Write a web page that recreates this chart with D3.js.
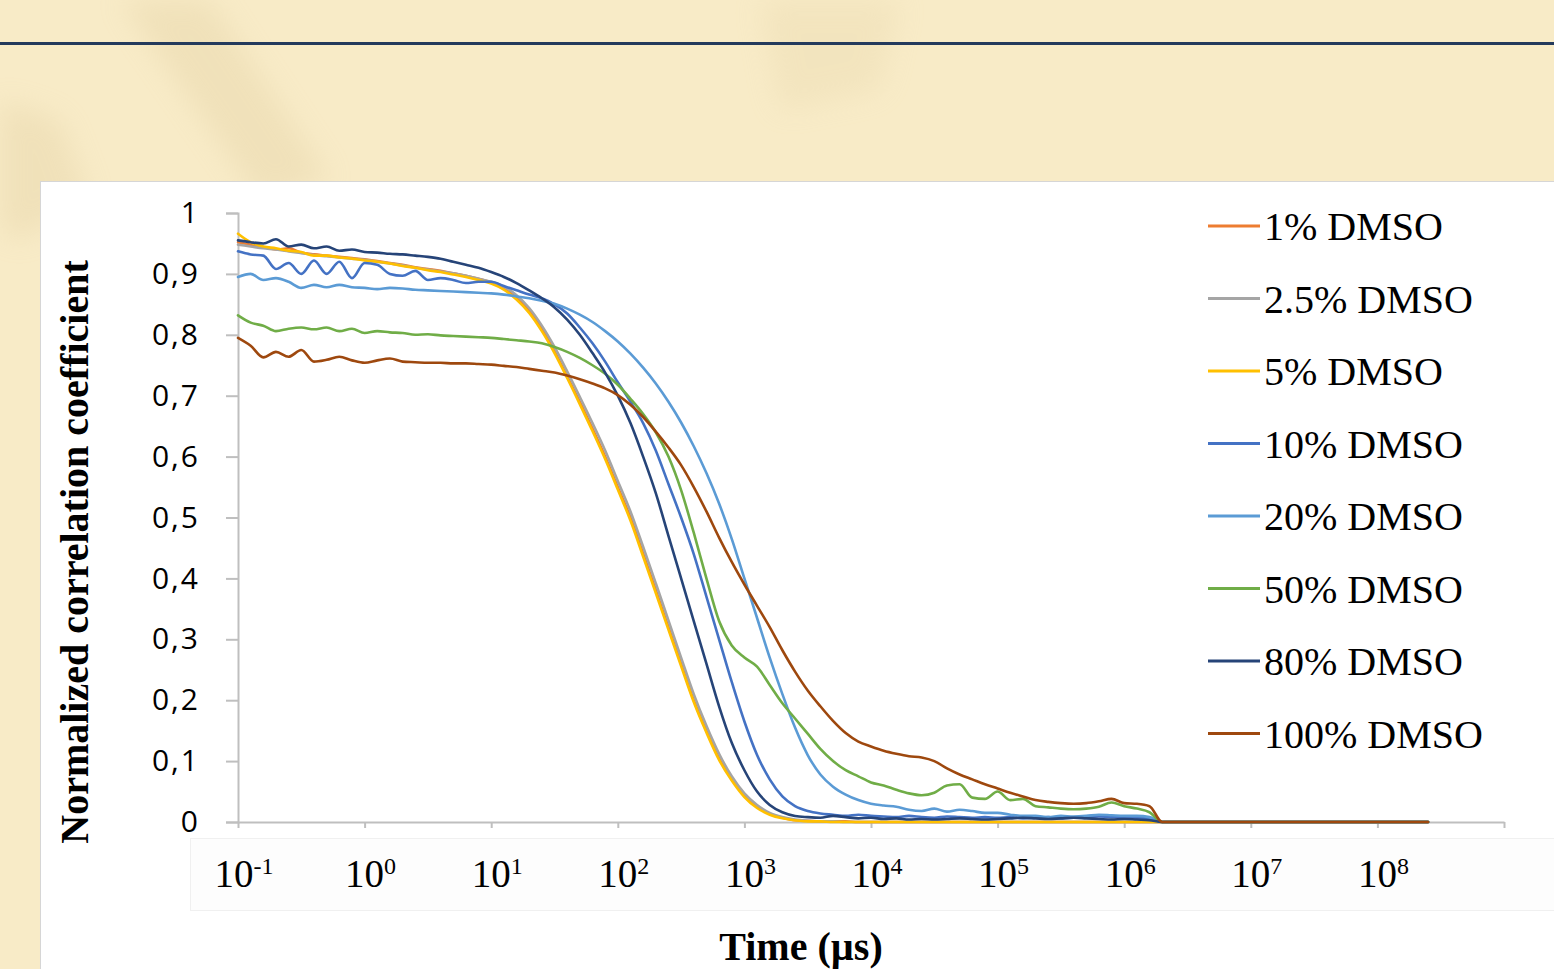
<!DOCTYPE html>
<html>
<head>
<meta charset="utf-8">
<script src="https://cdn.jsdelivr.net/npm/d3@7"></script>
<style>
  body { margin: 0; background: #f8ebc7; overflow: hidden; }
  svg { display: block; }
</style>
</head>
<body>
<div id="VizBox"></div>
<script>
// log10 of time (us) for every sample
var timeExp = [
  -1.0, -0.9, -0.8, -0.7, -0.6, -0.5, -0.4, -0.3, -0.2, -0.1,
   0.0,  0.1,  0.2,  0.3,  0.4,  0.5,  0.6,  0.7,  0.8,  0.9,
   1.0,  1.1,  1.2,  1.3,  1.4,  1.5,  1.6,  1.7,  1.8,  1.9,
   2.0,  2.1,  2.2,  2.3,  2.4,  2.5,  2.6,  2.7,  2.8,  2.9,
   3.0,  3.1,  3.2,  3.3,  3.4,  3.5,  3.6,  3.7,  3.8,  3.9,
   4.0,  4.1,  4.2,  4.3,  4.4,  4.5,  4.6,  4.7,  4.8,  4.9,
   5.0,  5.1,  5.2,  5.3,  5.4,  5.5,  5.6,  5.7,  5.8,  5.9,
   6.0,  6.1,  6.2,  6.3,  8.4
];

var dmso1 = [
  0.952, 0.948, 0.944, 0.940, 0.942, 0.935, 0.932, 0.930, 0.928, 0.926,
  0.924, 0.921, 0.918, 0.915, 0.911, 0.908, 0.905, 0.901, 0.897, 0.892,
  0.886, 0.877, 0.862, 0.840, 0.810, 0.773, 0.732, 0.690, 0.646, 0.600,
  0.550, 0.500, 0.441, 0.381, 0.320, 0.260, 0.200, 0.150, 0.105, 0.070,
  0.043, 0.025, 0.013, 0.007, 0.003, 0.002, 0.001, 0.001, 0.001, 0,
  0, 0, 0, 0, 0, 0, 0, 0, 0, 0,
  0, 0, 0, 0, 0, 0, 0, 0, 0, 0,
  0, 0, 0, 0, 0
];
var dmso2_5 = [
  0.948, 0.945, 0.942, 0.940, 0.937, 0.934, 0.931, 0.929, 0.927, 0.925,
  0.923, 0.920, 0.917, 0.914, 0.910, 0.907, 0.904, 0.901, 0.897, 0.892,
  0.887, 0.879, 0.865, 0.844, 0.815, 0.780, 0.740, 0.698, 0.655, 0.610,
  0.560, 0.510, 0.452, 0.392, 0.331, 0.270, 0.210, 0.158, 0.112, 0.075,
  0.047, 0.028, 0.015, 0.008, 0.004, 0.002, 0.001, 0.001, 0, 0,
  0, 0, 0, 0, 0, 0, 0, 0, 0, 0,
  0, 0, 0, 0, 0, 0, 0, 0, 0, 0,
  0, 0, 0, 0, 0
];
var dmso5 = [
  0.966, 0.952, 0.945, 0.942, 0.938, 0.936, 0.930, 0.930, 0.927, 0.925,
  0.922, 0.920, 0.917, 0.913, 0.910, 0.906, 0.903, 0.899, 0.895, 0.890,
  0.884, 0.874, 0.858, 0.836, 0.806, 0.770, 0.729, 0.686, 0.642, 0.596,
  0.546, 0.495, 0.436, 0.376, 0.316, 0.256, 0.197, 0.147, 0.102, 0.068,
  0.041, 0.023, 0.012, 0.006, 0.003, 0.001, 0.001, 0, 0, 0,
  0, 0, 0, 0, 0, 0, 0, 0, 0, 0,
  0, 0, 0, 0, 0, 0, 0, 0, 0, 0,
  0, 0, 0, 0, 0
];
var dmso10 = [
  0.937, 0.932, 0.930, 0.908, 0.918, 0.900, 0.922, 0.900, 0.920, 0.893,
  0.918, 0.915, 0.900, 0.897, 0.905, 0.890, 0.893, 0.890, 0.885, 0.887,
  0.887, 0.880, 0.873, 0.866, 0.860, 0.850, 0.835, 0.812, 0.786, 0.756,
  0.722, 0.690, 0.655, 0.610, 0.555, 0.500, 0.440, 0.370, 0.300, 0.230,
  0.165, 0.110, 0.070, 0.042, 0.026, 0.018, 0.014, 0.012, 0.010, 0.012,
  0.010, 0.009, 0.008, 0.010, 0.008, 0.007, 0.009, 0.008, 0.007, 0.008,
  0.007, 0.008, 0.006, 0.007, 0.008, 0.006, 0.007, 0.008, 0.009, 0.008,
  0.008, 0.007, 0.006, 0, 0
];
var dmso20 = [
  0.895, 0.900, 0.890, 0.893, 0.887, 0.877, 0.882, 0.878, 0.882, 0.878,
  0.877, 0.875, 0.877, 0.876, 0.874, 0.873, 0.872, 0.871, 0.870, 0.869,
  0.868, 0.866, 0.863, 0.860, 0.856, 0.851, 0.843, 0.833, 0.821, 0.806,
  0.789, 0.769, 0.746, 0.720, 0.690, 0.656, 0.617, 0.573, 0.523, 0.465,
  0.400, 0.335, 0.270, 0.210, 0.155, 0.110, 0.078, 0.058, 0.045, 0.036,
  0.030, 0.027, 0.025, 0.020, 0.018, 0.022, 0.017, 0.020, 0.018, 0.015,
  0.015, 0.012, 0.010, 0.010, 0.008, 0.010, 0.009, 0.010, 0.012, 0.011,
  0.010, 0.010, 0.008, 0, 0
];
var dmso50 = [
  0.832, 0.820, 0.815, 0.806, 0.810, 0.812, 0.809, 0.812, 0.806, 0.810,
  0.803, 0.806, 0.804, 0.803, 0.800, 0.801, 0.799, 0.798, 0.797, 0.796,
  0.795, 0.793, 0.791, 0.789, 0.786, 0.780, 0.772, 0.762, 0.750, 0.736,
  0.718, 0.695, 0.670, 0.640, 0.600, 0.545, 0.475, 0.400, 0.330, 0.290,
  0.270, 0.255, 0.225, 0.195, 0.170, 0.145, 0.120, 0.100, 0.085, 0.075,
  0.065, 0.060, 0.053, 0.047, 0.044, 0.048, 0.060, 0.062, 0.040, 0.038,
  0.050, 0.036, 0.038, 0.026, 0.024, 0.022, 0.021, 0.022, 0.025, 0.032,
  0.026, 0.022, 0.016, 0, 0
];
var dmso80 = [
  0.955, 0.952, 0.950, 0.957, 0.945, 0.948, 0.942, 0.945, 0.938, 0.940,
  0.936, 0.935, 0.933, 0.932, 0.930, 0.928, 0.925, 0.920, 0.915, 0.910,
  0.903, 0.895, 0.885, 0.873, 0.860, 0.845, 0.825, 0.800, 0.770, 0.738,
  0.700, 0.655, 0.600, 0.540, 0.470, 0.400, 0.330, 0.260, 0.190, 0.130,
  0.085, 0.050, 0.028, 0.016, 0.010, 0.008, 0.007, 0.010, 0.008, 0.006,
  0.007, 0.005, 0.006, 0.004, 0.005, 0.004, 0.005, 0.006, 0.005, 0.004,
  0.005, 0.006, 0.007, 0.006, 0.005, 0.006, 0.007, 0.006, 0.005, 0.004,
  0.005, 0.004, 0.003, 0, 0
];
var dmso100 = [
  0.795, 0.782, 0.763, 0.772, 0.764, 0.775, 0.756, 0.759, 0.764, 0.758,
  0.754, 0.758, 0.761, 0.756, 0.755, 0.754, 0.754, 0.753, 0.753, 0.752,
  0.751, 0.749, 0.747, 0.744, 0.741, 0.738, 0.733, 0.727, 0.720, 0.712,
  0.701, 0.685, 0.665, 0.641, 0.615, 0.586, 0.550, 0.510, 0.467, 0.427,
  0.390, 0.355, 0.320, 0.282, 0.247, 0.216, 0.190, 0.166, 0.146, 0.132,
  0.124, 0.117, 0.112, 0.108, 0.106, 0.100, 0.088, 0.078, 0.070, 0.062,
  0.055, 0.048, 0.042, 0.036, 0.033, 0.031, 0.030, 0.031, 0.034, 0.038,
  0.031, 0.030, 0.026, 0, 0
];

var seriesNames = ["1% DMSO", "2.5% DMSO", "5% DMSO", "10% DMSO", "20% DMSO", "50% DMSO", "80% DMSO", "100% DMSO"];
var seriesValues = [dmso1, dmso2_5, dmso5, dmso10, dmso20, dmso50, dmso80, dmso100];
var seriesColors = ["#ED7D31", "#A5A5A5", "#FFC000", "#4472C4", "#5B9BD5", "#70AD47", "#264478", "#9E480E"];

var yTicks = [0, 0.1, 0.2, 0.3, 0.4, 0.5, 0.6, 0.7, 0.8, 0.9, 1];
var yTickLabels = ["0", "0,1", "0,2", "0,3", "0,4", "0,5", "0,6", "0,7", "0,8", "0,9", "1"];
var xTickExp = [-1, 0, 1, 2, 3, 4, 5, 6, 7, 8, 9];
var xLabelExp = ["-1", "0", "1", "2", "3", "4", "5", "6", "7", "8"];

var svg = d3.select("#VizBox")
  .append("svg")
    .attr("width", 1554)
    .attr("height", 969);

// slide background + faint paper stains
var defs = svg.append("defs");
defs.append("filter").attr("id", "blur")
  .append("feGaussianBlur").attr("stdDeviation", 14);

svg.append("rect")
  .attr("width", 1554).attr("height", 969)
  .attr("fill", "#f8ebc7");

var stains = svg.append("g").attr("filter", "url(#blur)").attr("opacity", 0.25);
stains.append("path")
  .attr("d", "M120,0 L210,0 L330,180 L260,200 Z")
  .attr("fill", "#d9c493");
stains.append("path")
  .attr("d", "M0,100 L60,120 L90,200 L20,240 L0,230 Z")
  .attr("fill", "#d9c493");
stains.append("path")
  .attr("d", "M760,0 L900,0 L880,90 L780,110 Z")
  .attr("fill", "#e3d1a4");

// title rule
svg.append("rect")
  .attr("x", 0).attr("y", 42)
  .attr("width", 1554).attr("height", 3)
  .attr("fill", "#243a5c");

// chart panel
svg.append("rect")
  .attr("x", 40.5).attr("y", 181.5)
  .attr("width", 1530).attr("height", 800)
  .attr("fill", "#ffffff")
  .attr("stroke", "#d6d6d6");

// x label strip
svg.append("rect")
  .attr("x", 190.5).attr("y", 838.5)
  .attr("width", 1380).attr("height", 72)
  .attr("fill", "#fdfdfd")
  .attr("stroke", "#f0f0f0");

var x = d3.scaleLog()
  .domain([0.1, 1e9])
  .range([238, 1504]);

var y = d3.scaleLinear()
  .domain([0, 1])
  .range([822, 213]);

// Y axis
var yAxis = svg.append("g")
  .attr("transform", "translate(238,0)")
  .call(d3.axisLeft(y)
    .tickValues(yTicks)
    .tickSize(12)
    .tickPadding(26)
    .tickFormat(function(d, i) { return yTickLabels[i]; }));

yAxis.select(".domain").attr("stroke", "#bfbfbf").attr("stroke-width", 2);
yAxis.selectAll(".tick line").attr("stroke", "#bfbfbf").attr("stroke-width", 2);
yAxis.selectAll(".tick text")
  .attr("fill", "#000")
  .style("font-family", "'Open Sans', sans-serif")
  .style("font-size", "30px")
  .style("letter-spacing", "2px");

// X axis
var xAxis = svg.append("g")
  .attr("transform", "translate(0,822)")
  .call(d3.axisBottom(x)
    .tickValues(xTickExp.map(function(e) { return Math.pow(10, e); }))
    .tickSize(6)
    .tickSizeOuter(0)
    .tickFormat(""));

xAxis.select(".domain").attr("stroke", "#bfbfbf").attr("stroke-width", 2);
xAxis.selectAll(".tick line").attr("stroke", "#bfbfbf").attr("stroke-width", 2);

// x tick labels with superscript exponents
var xLabels = svg.append("g")
  .selectAll("text")
  .data(xLabelExp)
  .enter()
  .append("text")
    .attr("x", function(d) { return x(Math.pow(10, +d)) + 6; })
    .attr("y", 887)
    .attr("text-anchor", "middle")
    .style("font-family", "'Liberation Serif', 'Times New Roman', serif")
    .style("font-size", "39px")
    .attr("fill", "#000");
xLabels.append("tspan").text("10");
xLabels.append("tspan")
  .attr("dy", -13)
  .style("font-size", "24px")
  .text(function(d) { return d; });

// series lines
var line = d3.line()
  .x(function(d) { return x(Math.pow(10, d.e)); })
  .y(function(d) { return y(d.v); })
  .curve(d3.curveMonotoneX);

var series = seriesNames.map(function(name, i) {
  return {
    name: name,
    color: seriesColors[i],
    points: timeExp.map(function(e, j) { return {e: e, v: seriesValues[i][j]}; })
  };
});

svg.append("g")
  .selectAll("path")
  .data(series)
  .enter()
  .append("path")
    .attr("d", function(d) { return line(d.points); })
    .attr("fill", "none")
    .attr("stroke", function(d) { return d.color; })
    .attr("stroke-width", 2.6)
    .attr("stroke-linejoin", "round")
    .attr("stroke-linecap", "round");

// legend
var legend = svg.append("g")
  .selectAll("g")
  .data(series)
  .enter()
  .append("g")
    .attr("transform", function(d, i) { return "translate(1208," + (226 + i * 72.5) + ")"; });

legend.append("line")
  .attr("x1", 0).attr("x2", 52)
  .attr("stroke", function(d) { return d.color; })
  .attr("stroke-width", 3);

legend.append("text")
  .attr("x", 56)
  .attr("y", 14)
  .style("font-family", "'Liberation Serif', 'Times New Roman', serif")
  .style("font-size", "40px")
  .attr("fill", "#000")
  .text(function(d) { return d.name; });

// axis titles
svg.append("text")
  .attr("transform", "translate(88,552) rotate(-90)")
  .attr("text-anchor", "middle")
  .style("font-family", "'Liberation Serif', 'Times New Roman', serif")
  .style("font-weight", "bold")
  .style("font-size", "40px")
  .text("Normalized correlation coefficient");

svg.append("text")
  .attr("x", 801)
  .attr("y", 960)
  .attr("text-anchor", "middle")
  .style("font-family", "'Liberation Serif', 'Times New Roman', serif")
  .style("font-weight", "bold")
  .style("font-size", "40px")
  .text("Time (\u00B5s)");
</script>
</body>
</html>
